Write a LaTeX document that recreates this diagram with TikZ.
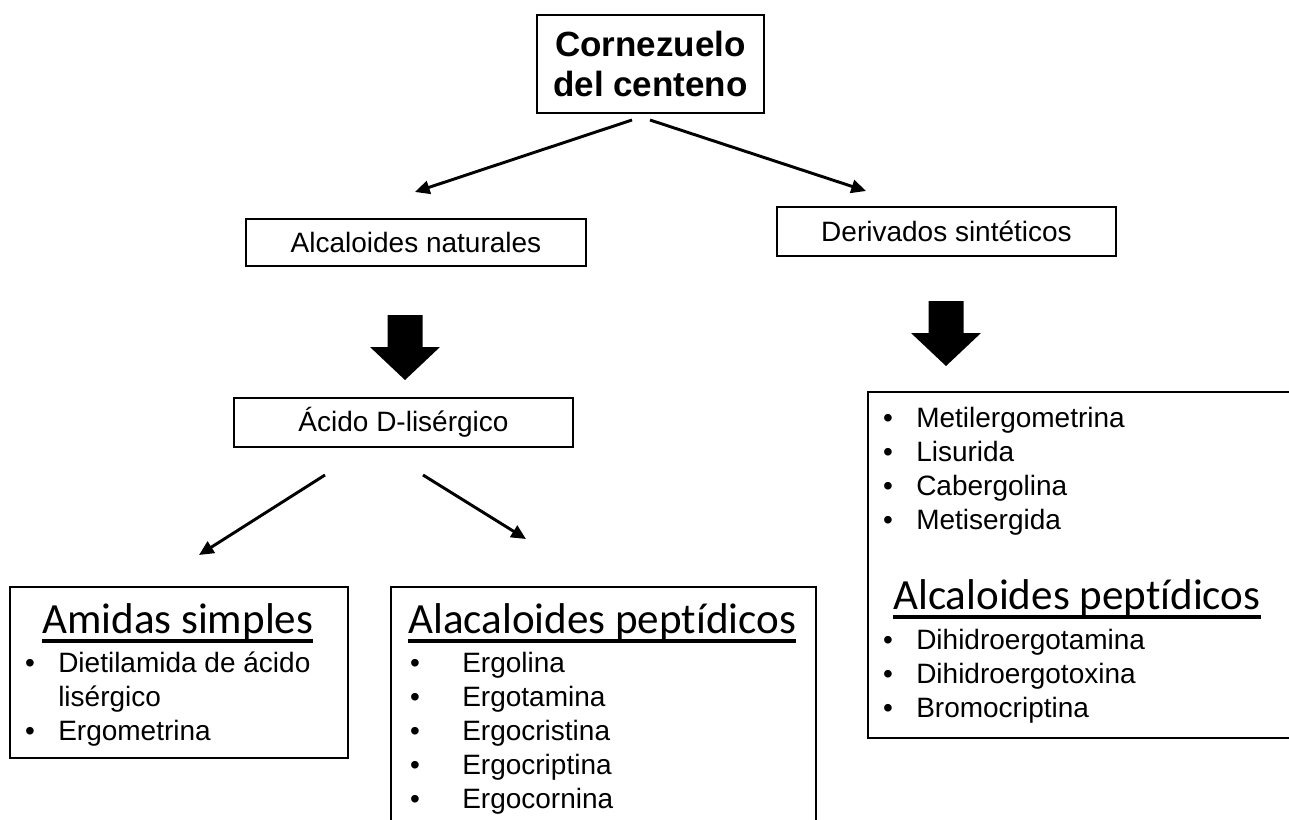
\documentclass[tikz,border=0pt]{standalone}
\usepackage{fontspec}
\setmainfont{Liberation Sans}
\newfontfamily\headfont[Ligatures=NoCommon]{Carlito}
\usetikzlibrary{calc, arrows.meta}

\tikzset{
	box/.style={draw, line width=1.5pt, rectangle, inner sep=0pt, align=center, font=\fontsize{21}{25.5}\selectfont},
	thinarrow/.style={-{Triangle[length=11pt, width=10pt]}, line width=2.2pt},
	head/.style={inner sep=0pt, anchor=base west, font=\headfont\fontsize{32.3}{36}\selectfont},
	item/.style={inner sep=0pt, anchor=base west, font=\fontsize{21}{25.5}\selectfont},
	dot/.style={inner sep=0pt, anchor=base, font=\fontsize{21}{25.5}\selectfont},
}
% big block arrow: x of centre, y of top
\newcommand{\bigarrow}[2]{%
	\fill (#1-17.5,#2) -- (#1+17.5,#2) -- (#1+17.5,#2+32) -- (#1+35,#2+32) -- (#1,#2+65) -- (#1-35,#2+32) -- (#1-17.5,#2+32) -- cycle;}

\begin{document}
\begin{tikzpicture}[x=0.75pt, y=-0.75pt]
		\def\pxu{0.75pt}
		\useasboundingbox (0,0) rectangle (1289,820);
		\clip (0,0) rectangle (1289,820);

		% boxes
		\node[box, minimum width=227*\pxu, minimum height=98*\pxu, font=\bfseries\fontsize{26.25}{30}\selectfont] (corn) at (650.5,64) {Cornezuelo\\del centeno};
		\node[box, minimum width=340*\pxu, minimum height=47*\pxu] (alcal) at (416,242.5) {Alcaloides naturales};
		\node[box, minimum width=339*\pxu, minimum height=49*\pxu] (deriv) at (946.5,231.5) {Derivados sintéticos};
		\node[box, minimum width=339*\pxu, minimum height=49*\pxu] (acido) at (403.5,422.5) {Ácido D-lisérgico};

		\node[box, minimum width=338*\pxu, minimum height=171*\pxu, anchor=north west] (amidas) at (9,586) {};
		\node[box, minimum width=425*\pxu, minimum height=260*\pxu, anchor=north west] (alacal) at (390,586) {};
		\node[box, minimum width=450*\pxu, minimum height=346*\pxu, anchor=north west] (sint) at (867,391) {};

		% arrows
		\draw[thinarrow] ($(corn.south)+(-18.5,6)$) -- ($(alcal.north)+(-1,-26)$);
		\draw[thinarrow] ($(corn.south)+(-0.5,6)$) -- ($(deriv.north)+(-80.5,-15)$);
		\draw[thinarrow] ($(acido.south)+(-78.5,27)$) -- ($(amidas.north)+(20,-31)$);
		\draw[thinarrow] ($(acido.south)+(19.5,27)$) -- ($(alacal.north)+(-77.5,-47)$);

		\bigarrow{405}{315}
		\bigarrow{946}{301}

		% amidas simples
		\node[head] (h1) at (42,633) {Amidas simples};
		\draw[line width=2.5pt] ($(h1.base west)+(0,8)$) -- ($(h1.base east)+(0,8)$);
		\node[dot] (d1) at (30,672) {•};
		\node[item] (t1) at (58,672) {Dietilamida de ácido};
		\node[item] (t2) at (58,706) {lisérgico};
		\node[dot] (d3) at (30,740) {•};
		\node[item] (t3) at (58,740) {Ergometrina};

		% alacaloides peptidicos
		\node[head] (h2) at (408,633) {Alacaloides peptídicos};
		\draw[line width=2.5pt] ($(h2.base west)+(0,8)$) -- ($(h2.base east)+(0,8)$);
		\foreach \name [count=\i] in {Ergolina, Ergotamina, Ergocristina, Ergocriptina, Ergocornina} {
			\node[dot] (e\i) at (415,638+34*\i) {•};
			\node[item] (n\i) at (462,638+34*\i) {\name};
		}

		% derivados
		\foreach \name [count=\i] in {Metilergometrina, Lisurida, Cabergolina, Metisergida} {
			\node[dot] (m\i) at (888,394+33.8*\i) {•};
			\node[item] (s\i) at (916,394+33.8*\i) {\name};
		}
		\node[head] (h3) at (893,609) {Alcaloides peptídicos};
		\draw[line width=2.5pt] ($(h3.base west)+(0,8)$) -- ($(h3.base east)+(0,8)$);
		\foreach \name [count=\i] in {Dihidroergotamina, Dihidroergotoxina, Bromocriptina} {
			\node[dot] (p\i) at (888,615+34.3*\i) {•};
			\node[item] (q\i) at (916,615+34.3*\i) {\name};
		}
	\end{tikzpicture}
\end{document}
